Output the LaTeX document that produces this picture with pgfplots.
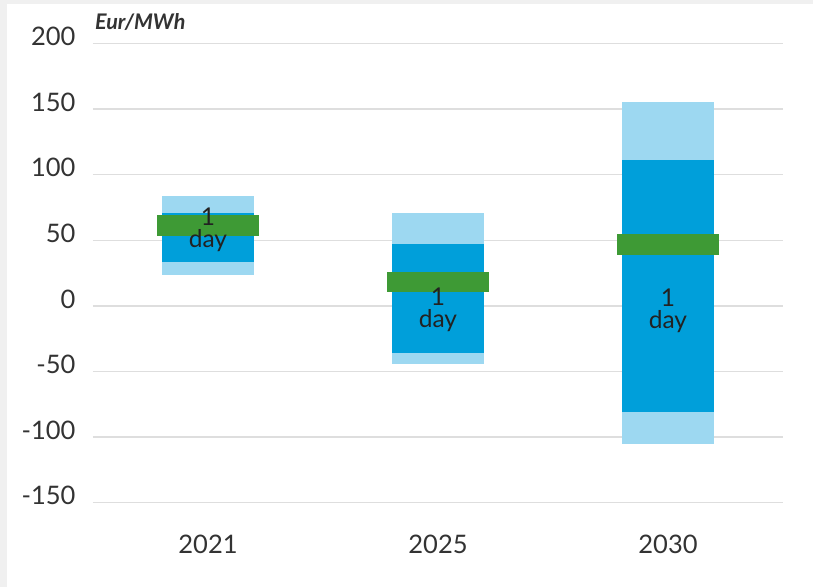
\documentclass[border=0pt]{standalone}
\usepackage{pgfplots}
\pgfplotsset{compat=1.18}
\usepackage{fontspec}
\setmainfont{Lato}
\definecolor{lb}{HTML}{9DD8F1}
\definecolor{db}{HTML}{009FDA}
\definecolor{gr}{HTML}{3E9A35}
\definecolor{gridc}{HTML}{DEDEDE}
\definecolor{bgc}{HTML}{F0F0F0}
\definecolor{txt}{HTML}{333333}
\definecolor{dtxt}{HTML}{222222}
\begin{document}
\begin{tikzpicture}
\fill[bgc] (-93pt,-84.3pt) rectangle (720pt,502.7pt);
\fill[white] (-86pt,-84.3pt) rectangle (720pt,498.7pt);
\begin{axis}[
  at={(0pt,0pt)}, anchor=south west,
  scale only axis, width=690pt, height=459.2pt,
  xmin=-0.5, xmax=2.5, ymin=-150, ymax=200,
  axis line style={draw=none},
  major tick length=0pt,
  ytick={-150,-100,-50,0,50,100,150,200},
  xtick={0,1,2}, xticklabels={2021,2025,2030},
  ymajorgrids, grid style={gridc, line width=1.5pt},
  /pgf/number format/assume math mode=true,
  ticklabel style={font=\fontsize{25.5}{30}\selectfont, text=txt},
  yticklabel style={xshift=-14pt, yshift=7pt},
  xticklabel style={yshift=-29pt},
]
% light blue ranges (2021: 23.6..83.7, 2025: -44.4..71, 2030: -105.3..155.5)
\addplot[draw=none, fill=lb] coordinates {(-0.2,23.6) (0.2,23.6) (0.2,83.7) (-0.2,83.7)};
\addplot[draw=none, fill=lb] coordinates {(0.8,-44.4) (1.2,-44.4) (1.2,71) (0.8,71)};
\addplot[draw=none, fill=lb] coordinates {(1.8,-105.3) (2.2,-105.3) (2.2,155.5) (1.8,155.5)};
% dark blue ranges (2021: 33.7..71, 2025: -36..47.4, 2030: -80.7..111.1)
\addplot[draw=none, fill=db] coordinates {(-0.2,33.7) (0.2,33.7) (0.2,71) (-0.2,71)};
\addplot[draw=none, fill=db] coordinates {(0.8,-36) (1.2,-36) (1.2,47.4) (0.8,47.4)};
\addplot[draw=none, fill=db] coordinates {(1.8,-80.7) (2.2,-80.7) (2.2,111.1) (1.8,111.1)};
% green bands (2021: 53.3..69, 2025: 10.7..26.1, 2030: 38.8..55)
\addplot[draw=none, fill=gr] coordinates {(-0.22,53.3) (0.22,53.3) (0.22,69) (-0.22,69)};
\addplot[draw=none, fill=gr] coordinates {(0.78,10.7) (1.22,10.7) (1.22,26.1) (0.78,26.1)};
\addplot[draw=none, fill=gr] coordinates {(1.78,38.8) (2.22,38.8) (2.22,55) (1.78,55)};
\node[align=center, inner sep=0, text=dtxt, font=\fontsize{24.5}{22}\selectfont] at (axis cs:0,58) {1\\day};
\node[align=center, inner sep=0, text=dtxt, font=\fontsize{24.5}{22}\selectfont] at (axis cs:1,-3) {1\\day};
\node[align=center, inner sep=0, text=dtxt, font=\fontsize{24.5}{22}\selectfont] at (axis cs:2,-3.5) {1\\day};
\end{axis}
\node[anchor=base west, inner sep=0, text=txt, font=\bfseries\itshape\fontsize{21.5}{24}\selectfont] at (2pt,472.7pt) {Eur/MWh};
\end{tikzpicture}
\end{document}
